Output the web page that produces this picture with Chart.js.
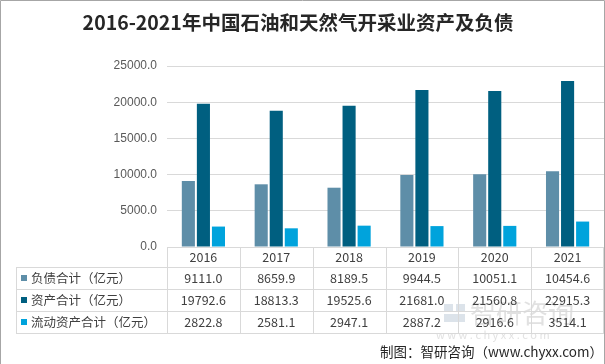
<!DOCTYPE html>
<html>
<head>
<meta charset="utf-8">
<script src="https://cdn.jsdelivr.net/npm/chart.js@4.4.1/dist/chart.umd.min.js"></script>
<style>
  html, body { margin: 0; padding: 0; background: #fff; overflow: hidden; }
  #wrap { width: 605px; height: 364px; position: relative; }
</style>
</head>
<body>
<div id="wrap"><canvas id="c" width="605" height="364"></canvas></div>
<script>
// ─── Data ────────────────────────────────────────────────────────────────────
var TITLE = '2016-2021年中国石油和天然气开采业资产及负债';
var SOURCE = '制图：智研咨询（www.chyxx.com）';
var YEARS = ['2016', '2017', '2018', '2019', '2020', '2021'];
var LIABILITIES = [9111.0, 8659.9, 8189.5, 9944.5, 10051.1, 10454.6];
var ASSETS = [19792.6, 18813.3, 19525.6, 21681.0, 21560.8, 22915.3];
var CURRENT_ASSETS = [2822.8, 2581.1, 2947.1, 2887.2, 2916.6, 3514.1];
var SERIES_NAMES = ['负债合计（亿元）', '资产合计（亿元）', '流动资产合计（亿元）'];
var Y_TICKS = [0, 5000, 10000, 15000, 20000, 25000];

var COLORS = ['#5E8EA8', '#005F80', '#00A3DC'];
var FONT = '"Noto Sans CJK SC", "Noto Sans", sans-serif';
var GRID = '#d9d9d9';

// ─── Plugin: title, data table, watermark, source ────────────────────────────
var tablePlugin = {
  id: 'dataTable',
  afterDraw: function(chart) {
    var ctx = chart.ctx;
    var xs = chart.scales.x;
    var area = chart.chartArea;
    var left = 16, right = area.right;
    var top = area.bottom;                 // header row top
    var rowY = [top, 267, 289, 311, 333];  // row boundaries
    var colW = (area.right - area.left) / YEARS.length;
    var series = [LIABILITIES, ASSETS, CURRENT_ASSETS];

    ctx.save();

    // title
    ctx.fillStyle = '#262626';
    ctx.font = 'bold 19.5px ' + FONT;
    ctx.textAlign = 'center';
    ctx.textBaseline = 'middle';
    ctx.fillText(TITLE, 298, 23);

    // watermark
    ctx.globalAlpha = 0.5;
    ctx.fillStyle = '#b9c7d6';
    ctx.fillRect(444, 304, 9, 8);
    ctx.fillRect(456, 304, 9, 8);
    ctx.fillRect(444, 314, 21, 8);
    ctx.fillStyle = '#c4c4c4';
    ctx.font = '26px ' + FONT;
    ctx.textAlign = 'left';
    ctx.fillText('智研咨询', 470, 313);
    ctx.font = '11px ' + FONT;
    ctx.fillText('w w w . c h y x x . c o m', 436, 335);
    ctx.globalAlpha = 1;

    // grid lines of table
    ctx.strokeStyle = GRID;
    ctx.lineWidth = 1;
    ctx.beginPath();
    ctx.moveTo(area.left, top + 0.5); ctx.lineTo(right, top + 0.5);
    for (var r = 1; r < rowY.length; r++) {
      ctx.moveTo(left, rowY[r] + 0.5);
      ctx.lineTo(right, rowY[r] + 0.5);
    }
    ctx.moveTo(left + 0.5, rowY[1]); ctx.lineTo(left + 0.5, rowY[4]);
    for (var k = 0; k <= YEARS.length; k++) {
      var vx = Math.round(area.left + colW * k) + 0.5;
      if (k === YEARS.length) vx = right - 0.5;
      ctx.moveTo(vx, top); ctx.lineTo(vx, rowY[4]);
    }
    ctx.stroke();

    // header years
    ctx.fillStyle = '#404040';
    ctx.font = '12.5px ' + FONT;
    ctx.textAlign = 'center';
    YEARS.forEach(function(y, i) {
      ctx.fillText(y, xs.getPixelForValue(i), (rowY[0] + rowY[1]) / 2);
    });

    // rows
    series.forEach(function(vals, s) {
      var cy = (rowY[s + 1] + rowY[s + 2]) / 2;
      ctx.fillStyle = COLORS[s];
      ctx.fillRect(21, Math.round(cy) - 3, 6, 6);
      ctx.fillStyle = '#404040';
      ctx.textAlign = 'left';
      ctx.fillText(SERIES_NAMES[s], 31, cy);
      ctx.textAlign = 'center';
      vals.forEach(function(v, i) {
        ctx.fillText(v.toFixed(1), xs.getPixelForValue(i), cy);
      });
    });

    // source
    ctx.fillStyle = '#262626';
    ctx.font = '13.5px ' + FONT;
    ctx.textAlign = 'right';
    ctx.fillText(SOURCE, 603, 352);

    // frame
    ctx.strokeStyle = '#a6a6a6';
    ctx.beginPath();
    ctx.moveTo(0.5, 364); ctx.lineTo(0.5, 0.5); ctx.lineTo(604.5, 0.5); ctx.lineTo(604.5, 364);
    ctx.stroke();

    ctx.restore();
  }
};

// ─── Chart ───────────────────────────────────────────────────────────────────
function bars(label, data, color) {
  return {
    label: label,
    data: data,
    backgroundColor: color,
    borderWidth: 0,
    categoryPercentage: 0.62,
    barPercentage: 0.87
  };
}

new Chart(document.getElementById('c').getContext('2d'), {
  type: 'bar',
  plugins: [tablePlugin],
  data: {
    labels: YEARS,
    datasets: [
      bars(SERIES_NAMES[0], LIABILITIES, COLORS[0]),
      bars(SERIES_NAMES[1], ASSETS, COLORS[1]),
      bars(SERIES_NAMES[2], CURRENT_ASSETS, COLORS[2])
    ]
  },
  options: {
    responsive: false,
    animation: false,
    devicePixelRatio: 1,
    layout: { padding: { top: 66, right: 1, bottom: 117, left: 0 } },
    plugins: {
      legend: { display: false },
      tooltip: { enabled: false },
      title: { display: false }
    },
    scales: {
      x: {
        display: false
      },
      y: {
        min: 0,
        max: 25000,
        afterFit: function(s) { s.width = 167; },
        afterBuildTicks: function(s) {
          s.ticks = Y_TICKS.map(function(v) { return { value: v }; });
        },
        border: { display: false },
        grid: { color: GRID, drawTicks: false },
        ticks: {
          padding: 10,
          color: '#595959',
          font: { size: 12, family: '"Liberation Sans", Arial, sans-serif' },
          callback: function(v) { return v.toFixed(1); }
        }
      }
    }
  }
});
</script>
</body>
</html>
